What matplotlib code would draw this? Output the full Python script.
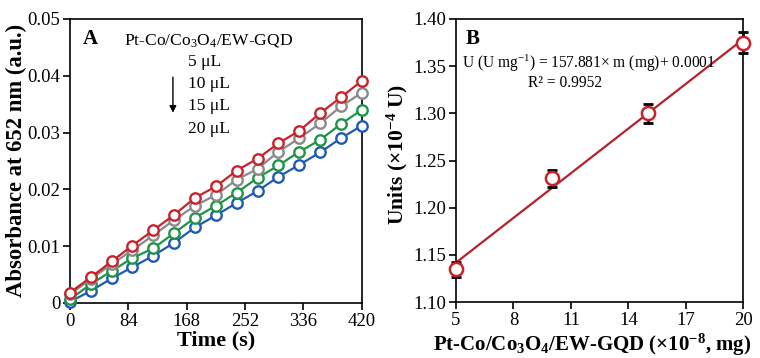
import numpy as np
import matplotlib.pyplot as plt

plt.rcParams['font.family'] = ['Liberation Serif', 'DejaVu Serif']
plt.rcParams['mathtext.default'] = 'regular'

# panel A: absorbance vs time for four volumes
time_s = [0, 30, 60, 90, 120, 150, 180, 210, 240, 270, 300, 330, 360, 390, 420]
abs_red = [0.0018, 0.0045, 0.0073, 0.0101, 0.0128, 0.0155, 0.0185, 0.0205, 0.0233,
           0.0254, 0.0281, 0.0303, 0.0334, 0.0362, 0.0391]
abs_gray = [0.0015, 0.0042, 0.0068, 0.0093, 0.0119, 0.0146, 0.0171, 0.0190, 0.0217,
            0.0236, 0.0266, 0.0290, 0.0316, 0.0346, 0.0370]
abs_green = [0.0006, 0.0033, 0.0056, 0.0079, 0.0096, 0.0123, 0.0150, 0.0171, 0.0194,
             0.0220, 0.0242, 0.0266, 0.0287, 0.0315, 0.0340]
abs_blue = [0.0002, 0.0021, 0.0043, 0.0063, 0.0083, 0.0106, 0.0133, 0.0154, 0.0176,
            0.0197, 0.0222, 0.0243, 0.0265, 0.0290, 0.0312]
volumes = ['5 μL', '10 μL', '15 μL', '20 μL']

# panel B: units vs mass
mass = [5, 10, 15, 20]
units = [1.135, 1.231, 1.300, 1.375]
units_err = [0.008, 0.009, 0.010, 0.011]

fig = plt.figure(figsize=(7.6, 3.58), dpi=100)
axA = fig.add_axes([0.092, 0.154, 0.384, 0.793])
axB = fig.add_axes([0.600, 0.156, 0.378, 0.791])

colors = ['#c8232c', '#8a8a8a', '#1f9447', '#1f5bb5']
for ys, c in zip([abs_blue, abs_green, abs_gray, abs_red], colors[::-1]):
    axA.plot(time_s, ys, '-o', color=c, lw=1.6, ms=7.5, mfc='white',
             mec=c, mew=1.7, clip_on=False, zorder=3)

axA.set_xlim(0, 420)
axA.set_ylim(0, 0.05)
axA.set_xticks([0, 84, 168, 252, 336, 420])
axA.set_yticks([0, 0.01, 0.02, 0.03, 0.04, 0.05])
axA.set_yticklabels(['0', '0.01', '0.02', '0.03', '0.04', '0.05'])
axA.set_xlabel('Time (s)', fontsize=16, fontweight='bold', labelpad=1)
axA.set_ylabel('Absorbance at 652 nm (a.u.)', fontsize=16.3, fontweight='bold')
axA.yaxis.set_label_coords(-0.146, 0.5)
axA.text(0.045, 0.93, 'A', transform=axA.transAxes, fontsize=15, fontweight='bold',
         va='center')
axA.text(0.187, 0.925, 'Pt-Co/Co$_3$O$_4$/EW-GQD', transform=axA.transAxes,
         fontsize=12.6, va='center')
for i, v in enumerate(volumes):
    axA.text(0.404, 0.85 - i * 0.079, v, transform=axA.transAxes, fontsize=12.6,
             va='center')
axA.annotate('', xy=(0.353, 0.66), xytext=(0.353, 0.805), xycoords='axes fraction',
             arrowprops=dict(arrowstyle='-|>', color='black', lw=1.0,
                             mutation_scale=10))

# panel B
fit = np.polyfit(mass, units, 1)
xf = np.array([5, 20])
axB.plot(xf, np.polyval(fit, xf), color='#b8202a', lw=1.6, zorder=2)
axB.errorbar(mass, units, yerr=units_err, fmt='none', ecolor='black', elinewidth=2,
             capsize=3.5, capthick=2, zorder=3, clip_on=False)
axB.plot(mass, units, 'o', ms=9.5, mfc='white', mec='#c8232c', mew=1.8,
         clip_on=False, zorder=4)
axB.set_xlim(5, 20)
axB.set_ylim(1.10, 1.40)
axB.set_xticks([5, 8, 11, 14, 17, 20])
axB.set_yticks(np.arange(1.10, 1.401, 0.05))
axB.yaxis.set_major_formatter(plt.FormatStrFormatter('%.2f'))
axB.set_xlabel('Pt-Co/Co$_3$O$_4$/EW-GQD (×10$^{-8}$, mg)', fontsize=15,
               fontweight='bold')
axB.xaxis.set_label_coords(0.474, -0.105)
axB.set_ylabel('Units (×10$^{-4}$ U)', fontsize=15.5, fontweight='bold')
axB.yaxis.set_label_coords(-0.16, 0.52)
axB.text(0.035, 0.93, 'B', transform=axB.transAxes, fontsize=15, fontweight='bold',
         va='center')
axB.text(0.022, 0.845, 'U (U mg$^{-1}$) = 157.881× m (mg)+ 0.0001',
         transform=axB.transAxes, fontsize=11.2, va='center')
axB.text(0.25, 0.775, 'R² = 0.9952', transform=axB.transAxes, fontsize=11.2,
         va='center')

for ax in (axA, axB):
    for s in ax.spines.values():
        s.set_linewidth(1.2)
    ax.tick_params(direction='out', length=5, width=1.2, labelsize=13.5, pad=2)

fig.savefig('out.png', dpi=100)
